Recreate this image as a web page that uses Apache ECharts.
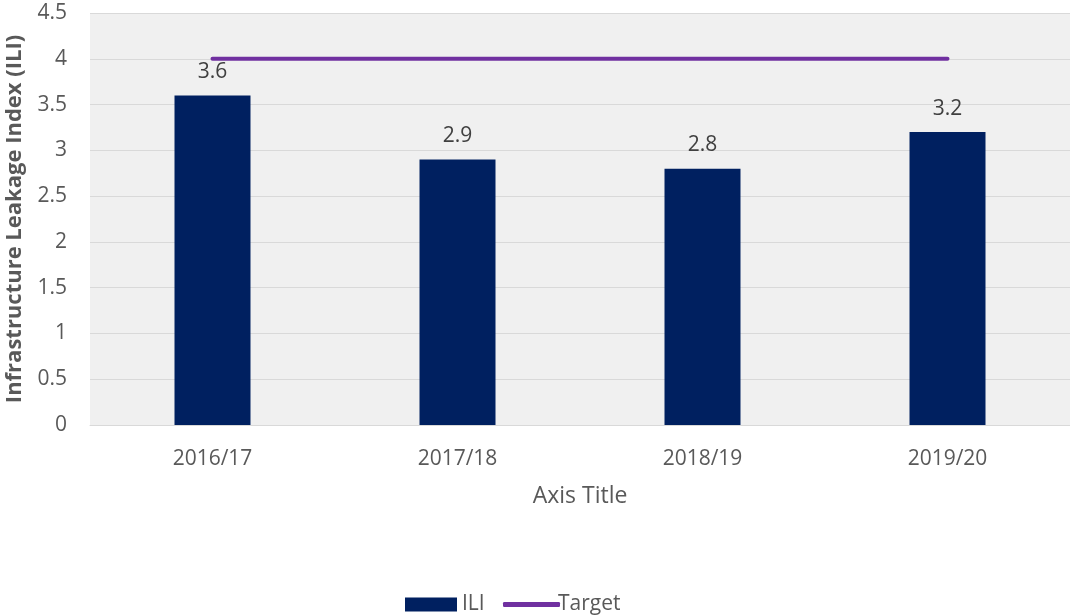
<!DOCTYPE html>
<html>
<head>
<meta charset="utf-8">
<script src="https://cdn.jsdelivr.net/npm/echarts@6/dist/echarts.min.js"></script>
<style>html,body{margin:0;padding:0;background:#fff;}#c{width:1070px;height:616px;}</style>
</head>
<body>
<div id="c"></div>
<script>
var categories = ['2016/17', '2017/18', '2018/19', '2019/20'];
var iliValues = [3.6, 2.9, 2.8, 3.2];
var targetValues = [4, 4, 4, 4];
var yTicks = {min: 0, max: 4.5, interval: 0.5};

var font = '"Open Sans", "Noto Sans", sans-serif';
var chart = echarts.init(document.getElementById('c'), null, {renderer: 'canvas'});
chart.setOption({
  backgroundColor: '#ffffff',
  animation: false,
  textStyle: {fontFamily: font},
  grid: {left: 90, right: 0, top: 13, bottom: 191, show: true, backgroundColor: '#f0f0f0', borderWidth: 0, containLabel: false, outerBoundsMode: 'none'},
  legend: [
    {
      left: 400, top: 589,
      itemWidth: 52, itemHeight: 14, itemGap: 20,
      textStyle: {fontFamily: font, fontSize: 21, color: '#595959', padding: [0, 0, 0, 0]},
      data: [{name: 'ILI', icon: 'rect'}]
    },
    {
      left: 498, top: 589,
      itemWidth: 57, itemHeight: 5, itemGap: 20,
      textStyle: {fontFamily: font, fontSize: 21, color: '#595959', padding: [0, 0, 0, -7]},
      data: [{name: 'Target', icon: 'roundRect'}]
    }
  ],
  xAxis: {
    type: 'category',
    data: categories,
    name: 'Axis Title',
    nameLocation: 'middle',
    nameGap: 60,
    nameTextStyle: {fontFamily: font, fontSize: 23, color: '#595959'},
    axisLine: {lineStyle: {color: '#d9d9d9', width: 1}},
    axisTick: {show: false},
    axisLabel: {fontFamily: font, fontSize: 21, color: '#595959', margin: 24}
  },
  yAxis: {
    type: 'value',
    min: yTicks.min, max: yTicks.max, interval: yTicks.interval,
    name: 'Infrastructure Leakage Index (ILI)',
    nameLocation: 'middle',
    nameGap: 64,
    nameTextStyle: {fontFamily: font, fontSize: 22, fontWeight: 'bold', color: '#595959'},
    axisLine: {show: false},
    axisTick: {show: false},
    axisLabel: {fontFamily: font, fontSize: 21, color: '#595959', margin: 23},
    splitLine: {lineStyle: {color: '#d9d9d9', width: 1}}
  },
  series: [
    {
      name: 'ILI', type: 'bar', data: iliValues, barWidth: 76,
      itemStyle: {color: '#002060'},
      label: {show: true, position: 'top', distance: 13, fontFamily: font, fontSize: 21, color: '#404040'}
    },
    {
      name: 'Target', type: 'line', data: targetValues,
      showSymbol: false, symbol: 'none',
      lineStyle: {color: '#7030a0', width: 4, cap: 'round'},
      itemStyle: {color: '#7030a0'}
    }
  ]
});
</script>
</body>
</html>
